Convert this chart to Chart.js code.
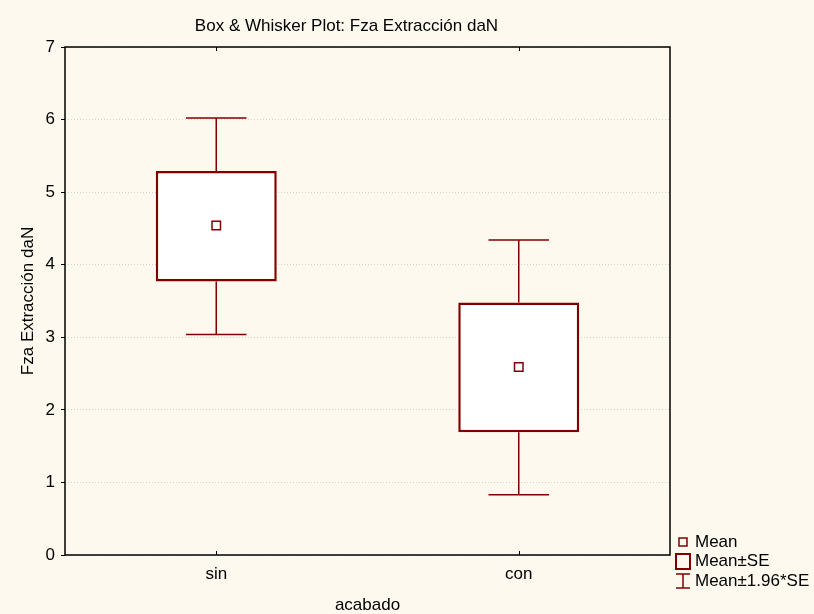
<!DOCTYPE html>
<html>
<head>
<meta charset="utf-8">
<script src="https://cdn.jsdelivr.net/npm/chart.js@4.4.1/dist/chart.umd.min.js"></script>
<style>
  html, body { margin: 0; padding: 0; background: #fef9ef; }
  #wrap { width: 814px; height: 614px; }
</style>
</head>
<body>
<div id="wrap"><canvas id="boxChart"></canvas></div>
<script>
// datos
const categories = ['sin', 'con'];
const meanValues = [4.54, 2.59];
const seLow = [3.77, 1.69];      // Mean-SE
const seHigh = [5.29, 3.48];     // Mean+SE
const ciLow = [3.04, 0.83];      // Mean-1.96*SE
const ciHigh = [6.02, 4.34];     // Mean+1.96*SE
const yTicks = [0, 1, 2, 3, 4, 5, 6, 7];

const darkRed = '#800000';
const fontFamily = '"Liberation Sans", Arial, sans-serif';
const fontSize = 17;

// bigotes, marco, marcas internas, título y leyenda
const boxPlugin = {
    id: 'boxExtras',
    beforeDatasetsDraw(chart) {
        const ctx = chart.ctx;
        const x = chart.scales.x;
        const y = chart.scales.y;
        const bars = chart.getDatasetMeta(0).data;
        ctx.save();
        ctx.strokeStyle = darkRed;
        ctx.lineWidth = 1.5;
        categories.forEach((c, i) => {
            const cx = x.getPixelForValue(i);
            const half = bars[i] ? bars[i].width / 4 : 30;
            const yHi = y.getPixelForValue(ciHigh[i]);
            const yLo = y.getPixelForValue(ciLow[i]);
            ctx.beginPath();
            ctx.moveTo(cx, yHi); ctx.lineTo(cx, y.getPixelForValue(seHigh[i]));
            ctx.moveTo(cx, y.getPixelForValue(seLow[i])); ctx.lineTo(cx, yLo);
            ctx.moveTo(cx - half, yHi); ctx.lineTo(cx + half, yHi);
            ctx.moveTo(cx - half, yLo); ctx.lineTo(cx + half, yLo);
            ctx.stroke();
        });
        ctx.restore();
    },
    afterDraw(chart) {
        const ctx = chart.ctx;
        const a = chart.chartArea;
        const x = chart.scales.x;
        ctx.save();
        // marco
        ctx.strokeStyle = '#000';
        ctx.lineWidth = 1.5;
        ctx.strokeRect(a.left, a.top, a.right - a.left, a.bottom - a.top);
        // marcas de categoría hacia adentro
        ctx.lineWidth = 1;
        categories.forEach((c, i) => {
            const cx = Math.round(x.getPixelForValue(i)) + 0.5;
            ctx.beginPath();
            ctx.moveTo(cx, a.top); ctx.lineTo(cx, a.top + 4);
            ctx.moveTo(cx, a.bottom); ctx.lineTo(cx, a.bottom - 4);
            ctx.stroke();
        });
        // título
        ctx.fillStyle = '#000';
        ctx.font = fontSize + 'px ' + fontFamily;
        ctx.textAlign = 'center';
        ctx.textBaseline = 'middle';
        ctx.fillText('Box & Whisker Plot: Fza Extracción daN', (a.left + a.right) / 2 - 21, 26);
        // leyenda
        const lx = a.right + 13;
        const items = ['Mean', 'Mean±SE', 'Mean±1.96*SE'];
        const ys = [a.bottom - 13, a.bottom + 6, a.bottom + 26];
        ctx.strokeStyle = darkRed;
        ctx.lineWidth = 1.5;
        ctx.strokeRect(lx - 4, ys[0] - 4, 8, 8);
        ctx.lineWidth = 2;
        ctx.strokeRect(lx - 7, ys[1] - 7, 14, 15);
        ctx.lineWidth = 1.5;
        ctx.beginPath();
        ctx.moveTo(lx - 7, ys[2] - 7); ctx.lineTo(lx + 7, ys[2] - 7);
        ctx.moveTo(lx, ys[2] - 7); ctx.lineTo(lx, ys[2] + 7);
        ctx.moveTo(lx - 7, ys[2] + 7); ctx.lineTo(lx + 7, ys[2] + 7);
        ctx.stroke();
        ctx.fillStyle = '#000';
        ctx.textAlign = 'left';
        items.forEach((t, i) => ctx.fillText(t, lx + 12, ys[i]));
        ctx.restore();
    }
};

const ctx = document.getElementById('boxChart').getContext('2d');
new Chart(ctx, {
    type: 'bar',
    data: {
        labels: categories,
        datasets: [
            {
                label: 'Mean±SE',
                data: seLow.map((v, i) => [v, seHigh[i]]),
                backgroundColor: '#ffffff',
                borderColor: darkRed,
                borderWidth: 2.5,
                borderSkipped: false,
                barPercentage: 0.4,
                categoryPercentage: 1,
                order: 2
            },
            {
                type: 'line',
                label: 'Mean',
                data: meanValues,
                showLine: false,
                pointStyle: 'rect',
                pointRadius: 6,
                pointBorderWidth: 1.5,
                pointBorderColor: darkRed,
                pointBackgroundColor: '#ffffff',
                order: 1
            }
        ]
    },
    options: {
        responsive: true,
        maintainAspectRatio: false,
        animation: false,
        layout: { padding: { top: 47, right: 144, left: 0, bottom: 0 } },
        plugins: {
            legend: { display: false },
            title: { display: false },
            tooltip: { enabled: false }
        },
        scales: {
            x: {
                offset: true,
                grid: { display: false, drawTicks: false },
                border: { display: false },
                ticks: { color: '#000', padding: 9, font: { family: fontFamily, size: fontSize } },
                title: {
                    display: true, text: 'acabado', color: '#000',
                    padding: { top: 0, bottom: -2 },
                    font: { family: fontFamily, size: fontSize }
                },
                afterFit(scale) { scale.height = 59; }
            },
            y: {
                min: 0,
                max: 7,
                afterBuildTicks(scale) { scale.ticks = yTicks.map(v => ({ value: v })); },
                grid: {
                    color: '#d2d2d2',
                    tickLength: 4,
                    tickColor: '#000',
                    tickBorderDash: [],
                    tickWidth: 1
                },
                border: { display: false, dash: [1, 2] },
                ticks: { color: '#000', padding: 6, font: { family: fontFamily, size: fontSize } },
                title: {
                    display: true, text: 'Fza Extracción daN', color: '#000',
                    padding: { top: 18, bottom: 0 },
                    font: { family: fontFamily, size: fontSize }
                },
                afterFit(scale) { scale.width = 65; }
            }
        }
    },
    plugins: [boxPlugin]
});
</script>
</body>
</html>
